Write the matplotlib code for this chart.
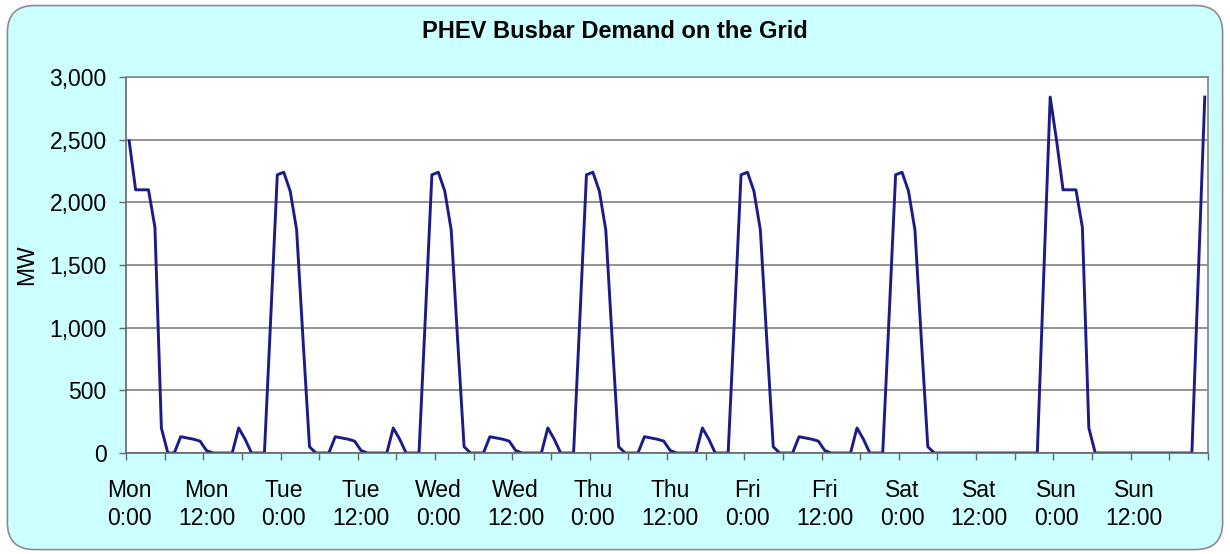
import numpy as np
import matplotlib
matplotlib.use('Agg')
import matplotlib.pyplot as plt
from matplotlib.patches import FancyBboxPatch
from matplotlib.ticker import FuncFormatter, FixedLocator

plt.rcParams['font.family'] = ['Liberation Sans', 'DejaVu Sans']

# hourly busbar demand (MW), one list per day, hours 0..23
mon = [2490, 2100, 2100, 2100, 1800, 200, 0, 0, 130, 120, 110, 95, 20, 0, 0, 0, 0, 200, 110, 0, 0, 0, 1100, 2220]
tue = [2240, 2090, 1780, 900, 50, 0, 0, 0, 130, 120, 110, 95, 20, 0, 0, 0, 0, 200, 110, 0, 0, 0, 1100, 2220]
wed = [2240, 2090, 1780, 900, 50, 0, 0, 0, 130, 120, 110, 95, 20, 0, 0, 0, 0, 200, 110, 0, 0, 0, 1100, 2220]
thu = [2240, 2090, 1780, 900, 50, 0, 0, 0, 130, 120, 110, 95, 20, 0, 0, 0, 0, 200, 110, 0, 0, 0, 1100, 2220]
fri = [2240, 2090, 1780, 900, 50, 0, 0, 0, 130, 120, 110, 95, 20, 0, 0, 0, 0, 200, 110, 0, 0, 0, 1100, 2220]
sat = [2240, 2090, 1780, 900, 50, 0, 0, 0, 0, 0, 0, 0, 0, 0, 0, 0, 0, 0, 0, 0, 0, 0, 1420, 2840]
sun = [2490, 2100, 2100, 2100, 1800, 200, 0, 0, 0, 0, 0, 0, 0, 0, 0, 0, 0, 0, 0, 0, 0, 0, 1420, 2840]

days = ['Mon', 'Tue', 'Wed', 'Thu', 'Fri', 'Sat', 'Sun']
tick_labels = [f'{d}\n{t}' for d in days for t in ['0:00', '12:00']]

demand = np.array(mon + tue + wed + thu + fri + sat + sun)
hours = np.arange(len(demand))

fig = plt.figure(figsize=(12.3, 5.54), dpi=100)
fig.patch.set_facecolor('white')
bg = FancyBboxPatch((0.006, 0.008), 0.988, 0.982, boxstyle='round,pad=0,rounding_size=0.022',
                    transform=fig.transFigure, facecolor='#ccffff', edgecolor='#8c8c8c',
                    linewidth=1.2, mutation_aspect=1230 / 554, zorder=-10)
fig.add_artist(bg)

ax = fig.add_axes([0.1024, 0.1823, 0.8797, 0.6787])
ax.set_facecolor('white')
ax.plot(hours, demand, color='#1c1c88', linewidth=2.1, solid_joinstyle='round')

ax.set_xlim(-0.5, len(demand) - 0.5)
ax.set_ylim(0, 3000)
ax.set_yticks(np.arange(0, 3001, 500))
ax.yaxis.set_major_formatter(FuncFormatter(lambda v, p: f'{int(v):,}'))
ax.yaxis.grid(True, color='#8a8a8a', linewidth=1.3)
ax.set_axisbelow(True)

# tick marks at every 6 hours, labels every 12 hours at the category centre
ax.xaxis.set_major_locator(FixedLocator(np.arange(-0.5, len(demand), 6)))
ax.xaxis.set_minor_locator(FixedLocator(np.arange(0, len(demand), 12)))
ax.set_xticklabels([], minor=False)
ax.set_xticklabels(tick_labels, minor=True)
ax.tick_params(axis='x', which='major', length=5, color='#666666', width=1)
ax.tick_params(axis='x', which='minor', length=0, pad=19, labelsize=16.5)
ax.tick_params(axis='y', length=5, color='#666666', width=1, labelsize=16.5, pad=9)
for lab in ax.get_xticklabels(minor=True):
    lab.set_linespacing(1.25)

for s in ['top', 'right']:
    ax.spines[s].set_color('#8a8a8a')
    ax.spines[s].set_linewidth(1.3)
for s in ['left', 'bottom']:
    ax.spines[s].set_color('#666666')
    ax.spines[s].set_linewidth(1.2)

ax.set_ylabel('MW', fontsize=16.5, labelpad=8)
fig.text(0.5, 0.943, 'PHEV Busbar Demand on the Grid', ha='center', va='center',
         fontsize=17, fontweight='bold')

fig.savefig('out.png', dpi=100, facecolor=fig.get_facecolor())
